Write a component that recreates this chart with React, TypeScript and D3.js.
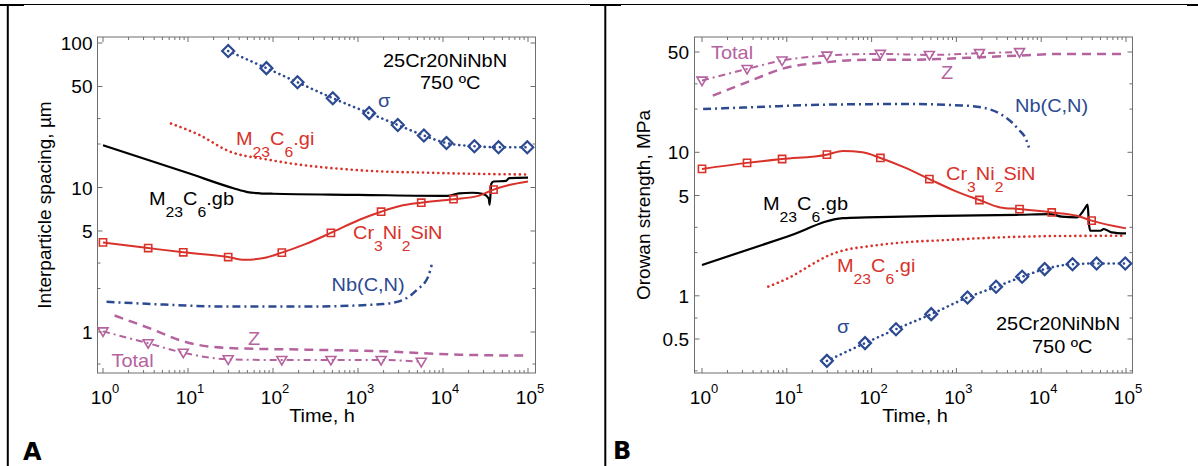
import React from "react";
import * as d3 from "d3";

// ---------- colours ----------
const RED = "#d8322b";
const BLUE = "#2c4a92";
const MAG = "#b5639f";
const BLACK = "#000000";

// ---------- shared time grids (h) ----------
const markerTimes = [1, 3.4, 8.8, 29.7, 127, 480, 1870, 5550, 13300, 39300];
const totalTimes = [1, 3.4, 8.8, 29.7, 127, 480, 1870, 5550];
const sigmaTimes = [29.7, 83.7, 194, 505, 1352, 2938, 5957, 10990, 23400, 45000, 98000];

// ---------- Panel A: interparticle spacing (µm) ----------
const sigmaA = [88, 67, 53.5, 41.5, 32.7, 27.1, 22.9, 20.3, 19.3, 19.0, 19.0];

const giTimesA = [6.3, 13.4, 30.6, 86.5, 244, 689, 1940, 5480, 15450, 100000];
const giA = [27.7, 23.2, 17.8, 15.6, 14.2, 13.4, 12.9, 12.7, 12.5, 12.3];

const gbTimesA = [1, 10, 35, 50, 70, 100, 1000, 11300, 15450, 22000, 30000, 34500, 35400, 37000, 39300, 55000, 60000, 100000];
const gbA = [19.6, 12.6, 9.85, 9.3, 9.12, 9.05, 8.9, 8.75, 9.1, 9.2, 9.0, 8.4, 7.6, 10.6, 11.0, 11.1, 11.6, 11.7];

const crTimesA = [1, 3.4, 8.8, 29.7, 46, 78, 127, 244, 480, 1040, 1870, 3270, 5550, 13300, 26000, 39300, 60000, 100000];
const crA = [4.17, 3.81, 3.56, 3.3, 3.16, 3.25, 3.54, 4.07, 4.85, 5.98, 6.8, 7.5, 7.85, 8.3, 8.75, 9.67, 10.4, 11.0];
const crMarkA = [4.17, 3.81, 3.56, 3.3, 3.54, 4.85, 6.8, 7.85, 8.3, 9.67];

const nbTimesA = [1.1, 3.86, 30.6, 244, 1940, 3400, 4900, 6700, 7360];
const nbA = [1.62, 1.56, 1.5, 1.5, 1.56, 1.67, 1.95, 2.42, 2.92];

const zTimesA = [1.37, 3.86, 8.83, 30.6, 244, 1940, 15450, 100000];
const zA = [1.3, 1.04, 0.861, 0.774, 0.755, 0.735, 0.697, 0.686];

const totalA = [1.01, 0.836, 0.719, 0.647, 0.64, 0.64, 0.64, 0.622];

// ---------- Panel B: Orowan strength (MPa) ----------
const sigmaB = [0.352, 0.468, 0.585, 0.745, 0.974, 1.156, 1.357, 1.535, 1.66, 1.68, 1.68];

const giTimesB = [6.05, 10.7, 20, 30.4, 51, 86, 244, 690, 1950, 5540, 15700, 100000];
const giB = [1.16, 1.34, 1.66, 1.9, 2.1, 2.2, 2.36, 2.44, 2.52, 2.58, 2.61, 2.62];

const gbTimesB = [1, 10, 46, 86, 690, 5540, 12700, 17400, 26400, 32500, 35300, 36500, 38000, 44400, 50000, 54700, 67300, 100000];
const gbB = [1.64, 2.58, 3.48, 3.52, 3.61, 3.67, 3.71, 3.56, 3.52, 4.03, 4.32, 3.2, 2.84, 2.84, 2.84, 2.92, 2.77, 2.72];

const crTimesB = [1, 3.4, 8.8, 29.7, 46, 78, 127, 244, 480, 944, 1870, 3290, 5550, 13300, 26400, 39300, 100000];
const crB = [7.66, 8.44, 8.98, 9.63, 10.2, 10.0, 9.13, 7.85, 6.51, 5.41, 4.65, 4.13, 4.02, 3.81, 3.61, 3.34, 2.95];
const crMarkB = [7.66, 8.44, 8.98, 9.63, 9.13, 6.51, 4.65, 4.02, 3.81, 3.34];

const nbTimesB = [1.03, 3.79, 30.4, 244, 1160, 1950, 3290, 4500, 5540, 6470, 7180];
const nbB = [20.0, 20.6, 21.5, 21.7, 21.2, 20.6, 18.5, 16.2, 14.2, 12.7, 10.8];

const zTimesB = [1.34, 3.79, 8.7, 30.4, 86, 244, 690, 1950, 5540, 15700, 100000];
const zB = [24.8, 31.6, 38.1, 42.5, 44.1, 44.1, 44.8, 46.0, 47.2, 48.5, 48.5];

const totalB = [31.6, 38.1, 43.6, 47.2, 48.5, 47.7, 49.1, 49.9];

// ---------- tick labels ----------
const xTickExps = [0, 1, 2, 3, 4, 5];
const yTicksA = [1, 5, 10, 50, 100];
const yMinorA = [0.6, 2, 3, 20, 30];
const yTicksB = [0.5, 1, 5, 10, 50];
const yMinorB = [0.3, 0.7, 2, 3, 20, 30];

const FONT = "'Liberation Sans', Arial, Helvetica, sans-serif";
const SX = 1.05;

type Part = [string, number]; // text, 0 main / 1 subscript

const Chem = ({ x, y, parts, color, size = 19 }: { x: number; y: number; parts: Part[]; color: string; size?: number }) => {
  let prevSub = 0;
  return (
    <text transform={`translate(${x},${y}) scale(${SX},1)`} fill={color} fontSize={size} fontFamily={FONT}>
      {parts.map(([t, sub], i) => {
        const dy = sub === prevSub ? 0 : sub ? 12 : -12;
        prevSub = sub;
        return (
          <tspan key={i} dy={dy} fontSize={sub ? 15 : size}>
            {t}
          </tspan>
        );
      })}
    </text>
  );
};

const Label = ({ x, y, text, color, size = 19, anchor = "start" }: any) => (
  <text transform={`translate(${x},${y}) scale(${SX},1)`} fill={color} fontSize={size} fontFamily={FONT} textAnchor={anchor}>
    {text}
  </text>
);

type Series = {
  t: number[];
  v: number[];
  color: string;
  width: number;
  dash?: string;
  cap?: string;
  smooth?: boolean;
  marker?: "square" | "diamond" | "tri";
  mt?: number[];
  mv?: number[];
};

const markerPath: Record<string, string> = {
  square: "M-3.6,-3.6H3.6V3.6H-3.6Z",
  diamond: "M0,-6L6,0L0,6L-6,0Z",
  tri: "M-5,-3.5L5,-3.5L0,5Z",
};

type PanelCfg = {
  x0: number; x1: number; boxL: number; boxR: number; boxT: number; boxB: number;
  yDom: [number, number]; yRng: [number, number];
  yTicks: number[]; yMinor: number[]; yLabelX: number;
  ylabel: string; ylabelX: number; xlabelX: number;
  series: Series[];
};

const Panel = ({ cfg }: { cfg: PanelCfg }) => {
  const x = d3.scaleLog().domain([1, 1e5]).range([cfg.x0, cfg.x1]);
  const y = d3.scaleLog().domain(cfg.yDom).range(cfg.yRng);
  const axisColor = "#6f6f6f";
  const xMinor: number[] = [];
  for (let d = 0; d < 5; d++) for (let k = 2; k <= 9; k++) xMinor.push(k * Math.pow(10, d));
  const mk = (s: Series) => {
    const pts = s.t.map((t, i) => [x(t), y(s.v[i])] as [number, number]);
    return d3.line().curve(s.smooth ? d3.curveMonotoneX : d3.curveLinear)(pts) || "";
  };
  const mid = (cfg.boxT + cfg.boxB) / 2;
  return (
    <g>
      <defs>
        <clipPath id={`clip${cfg.x0}`}>
          <rect x={cfg.boxL} y={cfg.boxT} width={cfg.boxR - cfg.boxL} height={cfg.boxB - cfg.boxT} />
        </clipPath>
      </defs>
      {/* x ticks */}
      {xTickExps.map((e) => {
        const xx = x(Math.pow(10, e));
        return (
          <g key={"xt" + e}>
            <line x1={xx} x2={xx} y1={cfg.boxB} y2={cfg.boxB - 5} stroke={axisColor} />
            <line x1={xx} x2={xx} y1={cfg.boxT} y2={cfg.boxT + 5} stroke={axisColor} />
            <text x={xx + 2} y={404} fontSize={19} fontFamily={FONT} textAnchor="middle">
              10<tspan dy={-11} fontSize={13}>{e}</tspan>
            </text>
          </g>
        );
      })}
      {xMinor.map((t) => (
        <g key={"xm" + t}>
          <line x1={x(t)} x2={x(t)} y1={cfg.boxB} y2={cfg.boxB - 3} stroke={axisColor} />
          <line x1={x(t)} x2={x(t)} y1={cfg.boxT} y2={cfg.boxT + 3} stroke={axisColor} />
        </g>
      ))}
      {/* y ticks */}
      {cfg.yTicks.map((v) => (
        <g key={"yt" + v}>
          <line x1={cfg.boxL} x2={cfg.boxL + 5} y1={y(v)} y2={y(v)} stroke={axisColor} />
          <line x1={cfg.boxR} x2={cfg.boxR - 5} y1={y(v)} y2={y(v)} stroke={axisColor} />
          <text x={cfg.yLabelX} y={y(v) + 7} fontSize={19} fontFamily={FONT} textAnchor="end">
            {String(v)}
          </text>
        </g>
      ))}
      {cfg.yMinor.map((v) => (
        <g key={"ym" + v}>
          <line x1={cfg.boxL} x2={cfg.boxL + 3} y1={y(v)} y2={y(v)} stroke={axisColor} />
          <line x1={cfg.boxR} x2={cfg.boxR - 3} y1={y(v)} y2={y(v)} stroke={axisColor} />
        </g>
      ))}
      <rect x={cfg.boxL} y={cfg.boxT} width={cfg.boxR - cfg.boxL} height={cfg.boxB - cfg.boxT} fill="none" stroke={axisColor} strokeWidth={1} />
      {/* series */}
      <g clipPath={`url(#clip${cfg.x0})`}>
        {cfg.series.map((s, i) => (
          <g key={"s" + i}>
            <path d={mk(s)} fill="none" stroke={s.color} strokeWidth={s.width} strokeDasharray={s.dash} strokeLinecap={(s.cap as any) || "butt"} strokeLinejoin="round" />
            {s.marker && s.mt && s.mv
              ? s.mt.map((t, j) => (
                  <path key={j} d={markerPath[s.marker!]} transform={`translate(${x(t)},${y(s.mv![j])})`} fill="none" stroke={s.color} strokeWidth={s.marker === "diamond" ? 2.2 : 1.6} strokeLinejoin="miter" />
                ))
              : null}
          </g>
        ))}
      </g>
      {/* axis labels */}
      <text transform={`translate(${cfg.ylabelX},${mid}) rotate(-90)`} fontSize={19} fontFamily={FONT} textAnchor="middle">
        {cfg.ylabel}
      </text>
      <Label x={cfg.xlabelX} y={422} text="Time, h" color={BLACK} anchor="middle" />
    </g>
  );
};

const dotted = "0.1 5";
const dashDot = "8 4 2 4";
const dashed = "9 6";

const seriesA: Series[] = [
  { t: nbTimesA, v: nbA, color: BLUE, width: 2.5, dash: dashDot, smooth: true },
  { t: zTimesA, v: zA, color: MAG, width: 2.5, dash: dashed, smooth: true },
  { t: totalTimes, v: totalA, color: MAG, width: 2, dash: "7 4 2 4", smooth: true, marker: "tri", mt: totalTimes, mv: totalA },
  { t: giTimesA, v: giA, color: RED, width: 2.6, dash: dotted, cap: "round", smooth: true },
  { t: gbTimesA, v: gbA, color: BLACK, width: 2.2, smooth: true },
  { t: crTimesA, v: crA, color: RED, width: 2, smooth: true, marker: "square", mt: markerTimes, mv: crMarkA },
  { t: sigmaTimes, v: sigmaA, color: BLUE, width: 2.6, dash: dotted, cap: "round", smooth: true, marker: "diamond", mt: sigmaTimes, mv: sigmaA },
];

const seriesB: Series[] = [
  { t: nbTimesB, v: nbB, color: BLUE, width: 2.5, dash: dashDot, smooth: true },
  { t: zTimesB, v: zB, color: MAG, width: 2.5, dash: dashed, smooth: true },
  { t: totalTimes, v: totalB, color: MAG, width: 2, dash: "7 4 2 4", smooth: true, marker: "tri", mt: totalTimes, mv: totalB },
  { t: giTimesB, v: giB, color: RED, width: 2.6, dash: dotted, cap: "round", smooth: true },
  { t: gbTimesB, v: gbB, color: BLACK, width: 2.2, smooth: true },
  { t: crTimesB, v: crB, color: RED, width: 2, smooth: true, marker: "square", mt: markerTimes, mv: crMarkB },
  { t: sigmaTimes, v: sigmaB, color: BLUE, width: 2.6, dash: dotted, cap: "round", smooth: true, marker: "diamond", mt: sigmaTimes, mv: sigmaB },
];

const cfgA: PanelCfg = {
  x0: 103, x1: 528, boxL: 97.5, boxR: 535.5, boxT: 37, boxB: 373,
  yDom: [1, 100], yRng: [332, 43], yTicks: yTicksA, yMinor: yMinorA, yLabelX: 92.5,
  ylabel: "Interparticle spacing, µm", ylabelX: 51, xlabelX: 322, series: seriesA,
};
const cfgB: PanelCfg = {
  x0: 702, x1: 1126, boxL: 694.5, boxR: 1132.5, boxT: 37, boxB: 373,
  yDom: [0.5, 50], yRng: [339, 52], yTicks: yTicksB, yMinor: yMinorB, yLabelX: 689,
  ylabel: "Orowan strength, MPa", ylabelX: 650, xlabelX: 915, series: seriesB,
};

const M23gi: Part[] = [["M", 0], ["23", 1], ["C", 0], ["6", 1], [".gi", 0]];
const M23gb: Part[] = [["M", 0], ["23", 1], ["C", 0], ["6", 1], [".gb", 0]];
const CrNi: Part[] = [["Cr", 0], ["3", 1], ["Ni", 0], ["2", 1], ["SiN", 0]];

export default function App() {
  return (
    <svg width={1198} height={466} style={{ position: "absolute", left: 0, top: 0, background: "#fff" }} fontFamily={FONT}>
      <rect width={1198} height={466} fill="#fff" />
      {/* frame */}
      <line x1={0} x2={1198} y1={4.5} y2={4.5} stroke="#000" strokeWidth={1.2} />
      <line x1={0} x2={24} y1={5} y2={5} stroke="#000" strokeWidth={2} />
      <line x1={590} x2={621} y1={5} y2={5} stroke="#000" strokeWidth={2} />
      <line x1={1187} x2={1198} y1={5} y2={5} stroke="#000" strokeWidth={2} />
      <line x1={7.8} x2={7.8} y1={4} y2={466} stroke="#000" strokeWidth={2} />
      <line x1={605.3} x2={605.3} y1={4} y2={466} stroke="#000" strokeWidth={2} />

      <Panel cfg={cfgA} />
      <Panel cfg={cfgB} />

      {/* Panel A annotations */}
      <Label x={383} y={67} text="25Cr20NiNbN" color={BLACK} />
      <Label x={420} y={89} text="750 ºC" color={BLACK} />
      <Label x={378} y={107} text="σ" color={BLUE} />
      <Chem x={236} y={145} parts={M23gi} color={RED} />
      <Chem x={149} y={205} parts={M23gb} color={BLACK} />
      <Chem x={353} y={239} parts={CrNi} color={RED} />
      <Label x={331.5} y={291} text="Nb(C,N)" color={BLUE} />
      <Label x={248} y={345} text="Z" color={MAG} />
      <Label x={111.5} y={367} text="Total" color={MAG} />

      {/* Panel B annotations */}
      <Label x={711} y={59} text="Total" color={MAG} />
      <Label x={941} y={79} text="Z" color={MAG} />
      <Label x={1015} y={112} text="Nb(C,N)" color={BLUE} />
      <Chem x={946} y={180} parts={CrNi} color={RED} />
      <Chem x={763} y={210} parts={M23gb} color={BLACK} />
      <Chem x={837} y={272} parts={M23gi} color={RED} />
      <Label x={837} y={333} text="σ" color={BLUE} />
      <Label x={996} y={330} text="25Cr20NiNbN" color={BLACK} />
      <Label x={1032} y={353} text="750 ºC" color={BLACK} />

      {/* panel letters */}
      <text x={23} y={460} fontSize={24} fontWeight="bold" fontFamily="'DejaVu Sans', Verdana, sans-serif">A</text>
      <text x={613} y={459} fontSize={24} fontWeight="bold" fontFamily="'DejaVu Sans', Verdana, sans-serif">B</text>
    </svg>
  );
}
